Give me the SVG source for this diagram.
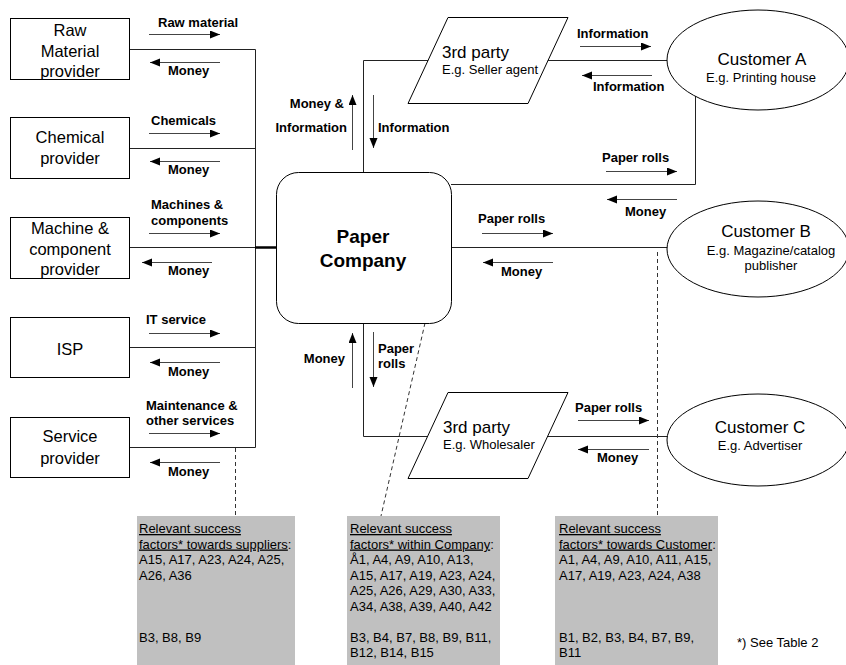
<svg xmlns="http://www.w3.org/2000/svg" width="846" height="665" viewBox="0 0 846 665">
  <style>
    .box { fill: #fff; stroke: #000; stroke-width: 1; }
    .node { font-family: "Liberation Sans", Arial, sans-serif; font-size: 16.5px; fill: #000; text-anchor: middle; }
    .big { font-family: "Liberation Sans", Arial, sans-serif; font-size: 17px; fill: #000; }
    .small { font-family: "Liberation Sans", Arial, sans-serif; font-size: 13px; fill: #000; }
    .lbl { font-family: "Liberation Sans", Arial, sans-serif; font-size: 13px; font-weight: bold; fill: #000; }
    .title { font-family: "Liberation Sans", Arial, sans-serif; font-size: 19px; font-weight: bold; fill: #000; text-anchor: middle; }
    .link { fill: none; stroke: #222; stroke-width: 1; }
    .flow { fill: none; stroke: #444; stroke-width: 1; marker-end: url(#head); }
    .dash { fill: none; stroke: #333; stroke-width: 1; stroke-dasharray: 4 3; }
    .note { fill: #c0c0c0; stroke: none; }
    .u { text-decoration: underline; }
  </style>
  <defs>
    <marker id="head" markerUnits="userSpaceOnUse" markerWidth="11" markerHeight="9" refX="10" refY="4" orient="auto">
      <path d="M0,0 L10,4 L0,8 z" fill="#000"/>
    </marker>
  </defs>

  <rect width="846" height="665" fill="#fff"/>

  <!-- connectors -->
  <g id="connectors">
    <!-- supplier bus -->
    <path class="link" d="M129,49.5 H255.5 V447.5"/>
    <path class="link" d="M129,148.5 H255.5"/>
    <path class="link" d="M129,247.5 H255.5"/>
    <path class="link" d="M129,347.5 H255.5"/>
    <path class="link" d="M129,447.5 H255.5"/>
    <path d="M255,247.5 H276" stroke="#000" stroke-width="2.5" fill="none"/>
    <!-- company to seller agent and customer A -->
    <path class="link" d="M363.5,172 V60.5 H668"/>
    <path class="link" d="M695.5,90 V184.5 H451"/>
    <!-- company to customer B -->
    <path class="link" d="M451,247.5 H668"/>
    <!-- company to wholesaler and customer C -->
    <path class="link" d="M363.5,323 V436.5 H668"/>

    <!-- supplier flows -->
    <line class="flow" x1="149" y1="34.5" x2="220" y2="34.5"/>
    <line class="flow" x1="220" y1="62.5" x2="150" y2="62.5"/>
    <line class="flow" x1="149" y1="133.5" x2="220" y2="133.5"/>
    <line class="flow" x1="220" y1="161.5" x2="150" y2="161.5"/>
    <line class="flow" x1="149" y1="233.5" x2="220" y2="233.5"/>
    <line class="flow" x1="212" y1="262.5" x2="142" y2="262.5"/>
    <line class="flow" x1="149" y1="333.5" x2="220" y2="333.5"/>
    <line class="flow" x1="220" y1="362.5" x2="150" y2="362.5"/>
    <line class="flow" x1="149" y1="433.5" x2="220" y2="433.5"/>
    <line class="flow" x1="220" y1="462.5" x2="150" y2="462.5"/>

    <!-- vertical flows at company -->
    <line class="flow" x1="352.5" y1="150" x2="352.5" y2="95"/>
    <line class="flow" x1="373.5" y1="95" x2="373.5" y2="148"/>
    <line class="flow" x1="352.5" y1="388" x2="352.5" y2="333"/>
    <line class="flow" x1="373.5" y1="332" x2="373.5" y2="387"/>

    <!-- customer flows -->
    <line class="flow" x1="580" y1="46.5" x2="651" y2="46.5"/>
    <line class="flow" x1="652" y1="75.5" x2="582" y2="75.5"/>
    <line class="flow" x1="606" y1="171.5" x2="677" y2="171.5"/>
    <line class="flow" x1="677" y1="199.5" x2="607" y2="199.5"/>
    <line class="flow" x1="482" y1="233.5" x2="553" y2="233.5"/>
    <line class="flow" x1="553" y1="262.5" x2="483" y2="262.5"/>
    <line class="flow" x1="578" y1="420.5" x2="649" y2="420.5"/>
    <line class="flow" x1="649" y1="449.5" x2="578" y2="449.5"/>

    <!-- leaders to the notes -->
    <line class="dash" x1="235.5" y1="448" x2="235.5" y2="516"/>
    <line class="dash" x1="425" y1="323" x2="381" y2="516"/>
    <line class="dash" x1="657.5" y1="252" x2="657.5" y2="516"/>
  </g>

  <!-- flow labels -->
  <g id="flow-labels">
    <text class="lbl" x="158" y="27">Raw material</text>
    <text class="lbl" x="168" y="75">Money</text>
    <text class="lbl" x="151" y="125">Chemicals</text>
    <text class="lbl" x="168" y="174">Money</text>
    <text class="lbl" x="151" y="209">Machines &amp;</text>
    <text class="lbl" x="151" y="225">components</text>
    <text class="lbl" x="168" y="275">Money</text>
    <text class="lbl" x="146" y="324">IT service</text>
    <text class="lbl" x="168" y="376">Money</text>
    <text class="lbl" x="146" y="410">Maintenance &amp;</text>
    <text class="lbl" x="146" y="425">other services</text>
    <text class="lbl" x="168" y="476">Money</text>

    <text class="lbl" x="344" y="108" text-anchor="end">Money &amp;</text>
    <text class="lbl" x="347" y="132" text-anchor="end">Information</text>
    <text class="lbl" x="378" y="132">Information</text>
    <text class="lbl" x="345" y="363" text-anchor="end">Money</text>
    <text class="lbl" x="378" y="353">Paper</text>
    <text class="lbl" x="378" y="368">rolls</text>

    <text class="lbl" x="577" y="38">Information</text>
    <text class="lbl" x="593" y="91">Information</text>
    <text class="lbl" x="602" y="162">Paper rolls</text>
    <text class="lbl" x="625" y="216">Money</text>
    <text class="lbl" x="478" y="223">Paper rolls</text>
    <text class="lbl" x="501" y="276">Money</text>
    <text class="lbl" x="575" y="412">Paper rolls</text>
    <text class="lbl" x="597" y="462">Money</text>
  </g>

  <!-- suppliers -->
  <g id="raw-material-provider">
    <rect class="box" x="10.5" y="18.5" width="119" height="61"/>
    <text class="node" x="70" y="36">Raw</text>
    <text class="node" x="70" y="57">Material</text>
    <text class="node" x="70" y="77">provider</text>
  </g>
  <g id="chemical-provider">
    <rect class="box" x="10.5" y="117.5" width="119" height="61"/>
    <text class="node" x="70" y="143">Chemical</text>
    <text class="node" x="70" y="164">provider</text>
  </g>
  <g id="machine-provider">
    <rect class="box" x="10.5" y="217.5" width="119" height="61"/>
    <text class="node" x="70" y="234">Machine &amp;</text>
    <text class="node" x="70" y="255">component</text>
    <text class="node" x="70" y="275">provider</text>
  </g>
  <g id="isp">
    <rect class="box" x="10.5" y="317.5" width="119" height="60"/>
    <text class="node" x="70" y="355">ISP</text>
  </g>
  <g id="service-provider">
    <rect class="box" x="10.5" y="417.5" width="119" height="60"/>
    <text class="node" x="70" y="442">Service</text>
    <text class="node" x="70" y="464">provider</text>
  </g>

  <!-- company -->
  <g id="paper-company">
    <rect class="box" x="276.5" y="172.5" width="175" height="151" rx="22" ry="22"/>
    <text class="title" x="363" y="243">Paper</text>
    <text class="title" x="363" y="267">Company</text>
  </g>

  <!-- intermediaries -->
  <g id="seller-agent">
    <polygon class="box" points="448,17.5 568,17.5 528,103.5 408,103.5"/>
    <text class="big" x="442" y="58">3rd party</text>
    <text class="small" x="442" y="74">E.g. Seller agent</text>
  </g>
  <g id="wholesaler">
    <polygon class="box" points="448,392.5 568,392.5 528,478.5 408,478.5"/>
    <text class="big" x="443" y="433">3rd party</text>
    <text class="small" x="443" y="449">E.g. Wholesaler</text>
  </g>

  <!-- customers -->
  <g id="customer-a">
    <ellipse class="box" cx="758" cy="60" rx="91" ry="50"/>
    <text class="big" x="762" y="65" text-anchor="middle">Customer A</text>
    <text class="small" x="761" y="82" text-anchor="middle">E.g. Printing house</text>
  </g>
  <g id="customer-b">
    <ellipse class="box" cx="758" cy="249" rx="91" ry="48"/>
    <text class="big" x="766" y="237" text-anchor="middle">Customer B</text>
    <text class="small" x="771" y="255" text-anchor="middle">E.g. Magazine/catalog</text>
    <text class="small" x="771" y="270" text-anchor="middle">publisher</text>
  </g>
  <g id="customer-c">
    <ellipse class="box" cx="758" cy="440" rx="91" ry="46"/>
    <text class="big" x="760" y="433" text-anchor="middle">Customer C</text>
    <text class="small" x="760" y="450" text-anchor="middle">E.g. Advertiser</text>
  </g>

  <!-- success factor notes -->
  <g id="note-suppliers">
    <rect class="note" x="137" y="516" width="158" height="149"/>
    <text class="small" x="139">
      <tspan x="139" y="533" class="u">Relevant success</tspan>
      <tspan x="139" y="548.5"><tspan class="u">factors* towards suppliers</tspan>:</tspan>
      <tspan x="139" y="564">A15, A17, A23, A24, A25,</tspan>
      <tspan x="139" y="579.5">A26, A36</tspan>
      <tspan x="139" y="641.5">B3, B8, B9</tspan>
    </text>
  </g>
  <g id="note-company">
    <rect class="note" x="347" y="516" width="153" height="149"/>
    <text class="small" x="350">
      <tspan x="350" y="533" class="u">Relevant success</tspan>
      <tspan x="350" y="548.5"><tspan class="u">factors* within Company</tspan>:</tspan>
      <tspan x="350" y="564">Å1, A4, A9, A10, A13,</tspan>
      <tspan x="350" y="579.5">A15, A17, A19, A23, A24,</tspan>
      <tspan x="350" y="595">A25, A26, A29, A30, A33,</tspan>
      <tspan x="350" y="610.5">A34, A38, A39, A40, A42</tspan>
      <tspan x="350" y="641.5">B3, B4, B7, B8, B9, B11,</tspan>
      <tspan x="350" y="657">B12, B14, B15</tspan>
    </text>
  </g>
  <g id="note-customer">
    <rect class="note" x="555" y="516" width="163" height="149"/>
    <text class="small" x="559">
      <tspan x="559" y="533" class="u">Relevant success</tspan>
      <tspan x="559" y="548.5"><tspan class="u">factors* towards Customer</tspan>:</tspan>
      <tspan x="559" y="564">A1, A4, A9, A10, A11, A15,</tspan>
      <tspan x="559" y="579.5">A17, A19, A23, A24, A38</tspan>
      <tspan x="559" y="641.5">B1, B2, B3, B4, B7, B9,</tspan>
      <tspan x="559" y="657">B11</tspan>
    </text>
  </g>

  <text class="small" x="737" y="647">*) See Table 2</text>
</svg>
